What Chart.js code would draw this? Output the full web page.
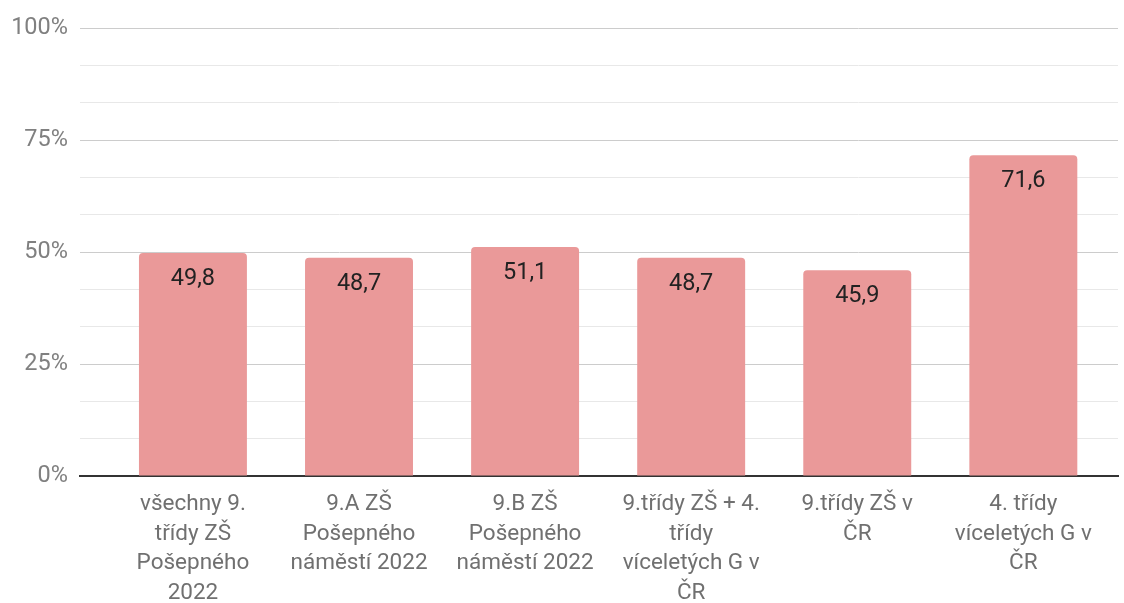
<!DOCTYPE html>
<html>
<head>
<meta charset="utf-8">
<script src="https://cdn.jsdelivr.net/npm/chart.js@4"></script>
<style>
html,body{margin:0;padding:0;background:#fff;}
#wrap{width:1124px;height:603px;position:relative;}
</style>
</head>
<body>
<div id="wrap"><canvas id="c"></canvas></div>
<script>
const categories = [
  ["všechny 9.", "třídy ZŠ", "Pošepného", "2022"],
  ["9.A ZŠ", "Pošepného", "náměstí 2022"],
  ["9.B ZŠ", "Pošepného", "náměstí 2022"],
  ["9.třídy ZŠ + 4.", "třídy", "víceletých G v", "ČR"],
  ["9.třídy ZŠ v", "ČR"],
  ["4. třídy", "víceletých G v", "ČR"]
];
const values = [49.8, 48.7, 51.1, 48.7, 45.9, 71.6];
const yTickLabels = ["0%", "25%", "50%", "75%", "100%"];

const FONT = "Roboto, 'Noto Sans', sans-serif";

const dataLabels = {
  id: 'dataLabels',
  afterDatasetsDraw(chart) {
    const ctx = chart.ctx;
    const meta = chart.getDatasetMeta(0);
    ctx.save();
    ctx.font = "23.5px " + FONT;
    ctx.fillStyle = "#222222";
    ctx.textAlign = "center";
    ctx.textBaseline = "middle";
    meta.data.forEach((bar, i) => {
      const txt = values[i].toFixed(1).replace('.', ',');
      ctx.fillText(txt, bar.x, bar.y + 26);
    });
    ctx.restore();
  }
};

new Chart(document.getElementById('c'), {
  type: 'bar',
  data: {
    datasets: [{
      data: values.map((v, i) => ({x: i, y: v})),
      backgroundColor: '#ea9999',
      borderRadius: 4,
      borderSkipped: 'bottom',
      barPercentage: 0.65,
      categoryPercentage: 1
    }]
  },
  options: {
    responsive: true,
    maintainAspectRatio: false,
    devicePixelRatio: 1,
    animation: false,
    layout: {padding: {top: 28, right: 6, left: 0, bottom: 0}},
    plugins: {legend: {display: false}, tooltip: {enabled: false}},
    scales: {
      x: {
        type: 'linear',
        offset: false,
        min: -0.68,
        max: 5.57,
        afterBuildTicks(scale) {
          scale.ticks = categories.map((c, i) => ({value: i}));
        },
        afterFit(scale) { scale.height = 127; },
        grid: {display: false, drawTicks: false, offset: false},
        border: {display: true, color: '#333333', width: 2},
        ticks: {
          autoSkip: false,
          maxRotation: 0,
          padding: 13,
          color: '#707070',
          font: {family: FONT, size: 22.5, lineHeight: 1.33},
          callback: (v) => categories[v] || ''
        }
      },
      y: {
        type: 'linear',
        min: 0,
        max: 100,
        afterBuildTicks(scale) {
          const t = [];
          for (let i = 0; i <= 12; i++) t.push({value: i * 100 / 12});
          scale.ticks = t;
        },
        afterFit(scale) { scale.width = 80; },
        grid: {
          drawTicks: false,
          color: (ctx) => (ctx.index % 3 === 0 ? '#cccccc' : '#e8e8e8'),
          lineWidth: 1
        },
        border: {display: false},
        ticks: {
          padding: 12,
          color: '#808080',
          font: {family: FONT, size: 23.5},
          callback: (v, i) => (i % 3 === 0 ? yTickLabels[i / 3] : '')
        }
      }
    }
  },
  plugins: [dataLabels]
});
</script>
</body>
</html>
